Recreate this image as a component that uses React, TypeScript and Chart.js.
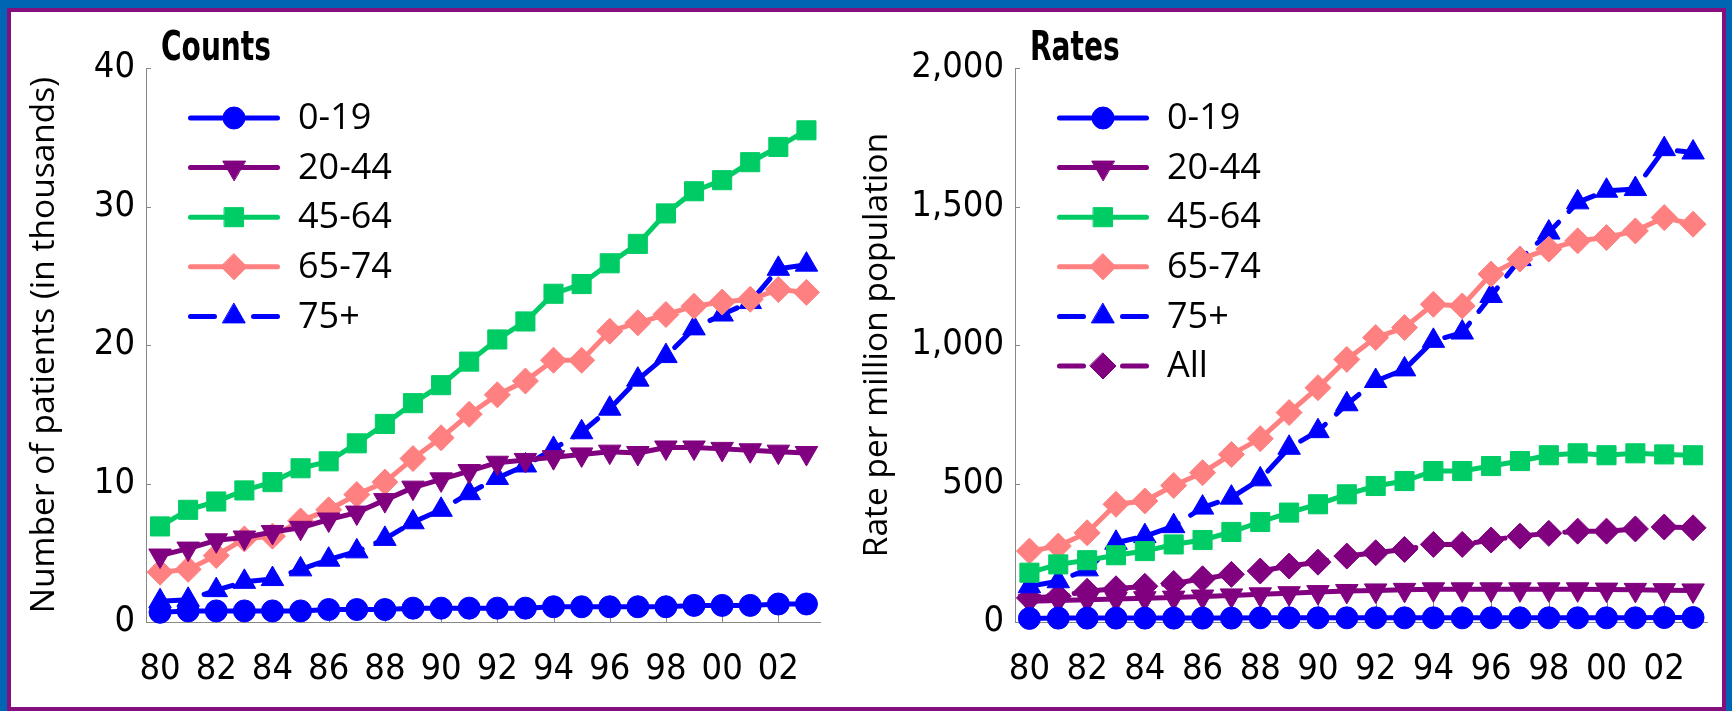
import React, { useEffect, useRef } from 'react';
import { Chart, registerables } from 'chart.js';

Chart.register(...registerables);

// ---------- data ----------
const YEARS = ['80', '81', '82', '83', '84', '85', '86', '87', '88', '89', '90', '91', '92', '93', '94', '95', '96', '97', '98', '99', '00', '01', '02', '03'];

const COUNT_TICKS = [0, 10, 20, 30, 40];
const RATE_TICKS = [0, 500, 1000, 1500, 2000];

const COUNT_0_19 = [0.7, 0.8, 0.8, 0.8, 0.8, 0.8, 0.9, 0.9, 0.9, 1.0, 1.0, 1.0, 1.0, 1.0, 1.1, 1.1, 1.1, 1.1, 1.1, 1.2, 1.2, 1.2, 1.3, 1.3];
const COUNT_20_44 = [4.8, 5.3, 5.9, 6.1, 6.5, 6.8, 7.4, 7.9, 8.8, 9.7, 10.3, 10.9, 11.5, 11.7, 11.9, 12.1, 12.3, 12.2, 12.6, 12.6, 12.5, 12.4, 12.3, 12.2];
const COUNT_45_64 = [6.9, 8.1, 8.7, 9.5, 10.1, 11.1, 11.6, 12.9, 14.3, 15.8, 17.1, 18.8, 20.4, 21.7, 23.7, 24.4, 25.9, 27.3, 29.5, 31.1, 31.9, 33.2, 34.3, 35.5];
const COUNT_65_74 = [3.6, 3.8, 4.8, 6.0, 6.2, 7.3, 8.1, 9.2, 10.1, 11.8, 13.3, 15.0, 16.4, 17.4, 18.9, 18.9, 21.0, 21.6, 22.2, 22.8, 23.1, 23.3, 24.0, 23.8];
const COUNT_75_PLUS = [1.5, 1.6, 2.3, 2.9, 3.1, 3.8, 4.5, 5.1, 6.0, 7.2, 8.1, 9.3, 10.4, 11.3, 12.5, 13.7, 15.4, 17.5, 19.2, 21.2, 22.2, 23.1, 25.5, 25.8];

const RATE_0_19 = [13, 14, 14, 14, 14, 14, 14, 14, 15, 15, 15, 15, 15, 15, 15, 15, 15, 15, 15, 15, 15, 15, 16, 16];
const RATE_20_44 = [75, 78, 80, 83, 86, 88, 92, 96, 100, 104, 108, 112, 114, 116, 118, 118, 118, 118, 118, 118, 117, 116, 115, 114];
const RATE_45_64 = [178, 208, 223, 241, 256, 280, 296, 325, 361, 395, 425, 461, 491, 509, 545, 545, 563, 581, 602, 609, 602, 609, 605, 602];
const RATE_65_74 = [256, 274, 322, 425, 437, 493, 539, 605, 662, 756, 846, 948, 1027, 1063, 1147, 1141, 1256, 1310, 1346, 1376, 1388, 1412, 1460, 1436];
const RATE_75_PLUS = [129, 147, 190, 286, 310, 346, 413, 449, 515, 629, 689, 786, 870, 912, 1015, 1045, 1177, 1310, 1406, 1515, 1557, 1563, 1707, 1695];
const RATE_ALL = [87, 93, 111, 120, 129, 139, 156, 172, 184, 202, 216, 238, 250, 262, 280, 280, 296, 310, 320, 328, 328, 336, 343, 340];

// ---------- styles ----------
const TICK_FONT = "'Liberation Sans Narrow', 'DejaVu Sans Condensed', 'Arial Narrow', sans-serif";
const TEXT_FONT = "'Open Sans', 'Noto Sans', sans-serif";

type SeriesStyle = { color: string; point: string; radius: number; rotation: number; dash: number[] };

const SERIES_STYLE: Record<string, SeriesStyle> = {
  '0-19': { color: '#0000ff', point: 'circle', radius: 11, rotation: 0, dash: [] },
  '20-44': { color: '#800080', point: 'triangle', radius: 13, rotation: 180, dash: [] },
  '45-64': { color: '#00cc66', point: 'rect', radius: 13.5, rotation: 0, dash: [] },
  '65-74': { color: '#ff8080', point: 'rectRot', radius: 13, rotation: 0, dash: [] },
  '75+': { color: '#0000ff', point: 'triangle', radius: 13, rotation: 0, dash: [30, 15] },
  'All': { color: '#800080', point: 'rectRot', radius: 13, rotation: 0, dash: [30, 15] },
};

function makeDataset(label: string, data: number[]) {
  const s = SERIES_STYLE[label];
  return {
    label,
    data,
    borderColor: s.color,
    backgroundColor: s.color,
    borderWidth: 5,
    borderDash: s.dash,
    borderCapStyle: 'round',
    borderJoinStyle: 'round',
    pointStyle: s.point,
    pointRadius: s.radius,
    pointHoverRadius: s.radius,
    pointRotation: s.rotation,
    pointBackgroundColor: s.color,
    pointBorderColor: s.color,
    pointBorderWidth: 1,
    tension: 0,
    fill: false,
    clip: false,
  };
}

function drawMarker(ctx: CanvasRenderingContext2D, style: SeriesStyle, x: number, y: number) {
  const r = style.radius;
  ctx.beginPath();
  if (style.point === 'circle') {
    ctx.arc(x, y, r, 0, Math.PI * 2);
  } else if (style.point === 'rect') {
    const h = r * Math.SQRT1_2;
    ctx.rect(x - h, y - h, 2 * h, 2 * h);
  } else if (style.point === 'rectRot') {
    ctx.moveTo(x, y - r);
    ctx.lineTo(x + r, y);
    ctx.lineTo(x, y + r);
    ctx.lineTo(x - r, y);
    ctx.closePath();
  } else if (style.point === 'triangle') {
    let rad = (style.rotation * Math.PI) / 180;
    ctx.moveTo(x + Math.sin(rad) * r, y - Math.cos(rad) * r);
    rad += (2 * Math.PI) / 3;
    ctx.lineTo(x + Math.sin(rad) * r, y - Math.cos(rad) * r);
    rad += (2 * Math.PI) / 3;
    ctx.lineTo(x + Math.sin(rad) * r, y - Math.cos(rad) * r);
    ctx.closePath();
  }
  ctx.fillStyle = style.color;
  ctx.fill();
  ctx.lineWidth = 1;
  ctx.strokeStyle = style.color;
  ctx.stroke();
}

const overlayPlugin = {
  id: 'overlay',
  beforeDatasetsDraw(chart: any, _args: any, opts: any) {
    const { ctx, chartArea } = chart;
    const xs = chart.scales.x;
    const ys = chart.scales.y;
    ctx.save();
    ctx.strokeStyle = '#888888';
    ctx.lineWidth = 1;
    xs.ticks.forEach((_t: any, i: number) => {
      if (i % 2 !== 0) return;
      const px = Math.round(xs.getPixelForTick(i)) + 0.5;
      ctx.beginPath();
      ctx.moveTo(px, chartArea.bottom);
      ctx.lineTo(px, chartArea.bottom - opts.xTickLen);
      ctx.stroke();
    });
    ys.ticks.forEach((_t: any, i: number) => {
      const py = Math.round(ys.getPixelForTick(i)) + 0.5;
      ctx.beginPath();
      ctx.moveTo(chartArea.left, py);
      ctx.lineTo(chartArea.left + 5, py);
      ctx.stroke();
    });
    ctx.restore();
  },
  afterDraw(chart: any, _args: any, opts: any) {
    const { ctx, chartArea } = chart;
    ctx.save();
    // panel title (condensed bold)
    ctx.fillStyle = '#000';
    ctx.font = `bold 40px ${TICK_FONT}`;
    ctx.textBaseline = 'alphabetic';
    ctx.textAlign = 'left';
    ctx.save();
    ctx.translate(chartArea.left + 15, chartArea.top - 8);
    ctx.scale(0.78, 1);
    ctx.fillText(opts.title, 0, 0);
    ctx.restore();

    // legend
    const L = chartArea.left;
    chart.data.datasets.forEach((ds: any, i: number) => {
      const s = SERIES_STYLE[ds.label];
      const y = chartArea.top + 50 + i * 49.6;
      ctx.save();
      ctx.strokeStyle = s.color;
      ctx.lineWidth = 5;
      ctx.lineCap = 'round';
      ctx.setLineDash(s.dash.length ? [24, 39] : []);
      ctx.beginPath();
      ctx.moveTo(L + 44.5, y);
      ctx.lineTo(L + 131.5, y);
      ctx.stroke();
      ctx.setLineDash([]);
      drawMarker(ctx, s, L + 88, y);
      ctx.restore();
      ctx.fillStyle = '#000';
      ctx.font = `36px ${TEXT_FONT}`;
      ctx.textBaseline = 'middle';
      ctx.textAlign = 'left';
      ctx.fillText(ds.label, L + 152, y + 1);
    });
    ctx.restore();
  },
};

type PanelProps = {
  left: number;
  width: number;
  title: string;
  yTitle: string;
  yTitlePad: number;
  yAxisWidth: number;
  padRight: number;
  ticks: number[];
  xTickLen: number;
  datasets: any[];
};

function Panel(p: PanelProps) {
  const ref = useRef<HTMLCanvasElement | null>(null);
  useEffect(() => {
    if (!ref.current) return;
    const yMin = p.ticks[0];
    const yMax = p.ticks[p.ticks.length - 1];
    const chart = new Chart(ref.current, {
      type: 'line',
      data: { labels: YEARS, datasets: p.datasets },
      plugins: [overlayPlugin as any],
      options: {
        responsive: false,
        animation: false,
        devicePixelRatio: 1,
        events: [],
        layout: { padding: { top: 56, right: p.padRight, bottom: 0, left: 0 } },
        plugins: {
          legend: { display: false },
          tooltip: { enabled: false },
          title: { display: false },
          overlay: { title: p.title, xTickLen: p.xTickLen },
        } as any,
        scales: {
          x: {
            type: 'category',
            offset: true,
            grid: { display: false },
            border: { display: true, color: '#888888', width: 1 },
            ticks: {
              autoSkip: false,
              maxRotation: 0,
              minRotation: 0,
              padding: 18,
              color: '#000',
              font: { family: TICK_FONT, size: 36 },
              callback: (_v: any, i: number) => (i % 2 === 0 ? YEARS[i] : ''),
            },
            afterFit: (s: any) => {
              s.height = 80;
            },
          },
          y: {
            min: yMin,
            max: yMax,
            afterBuildTicks: (s: any) => {
              s.ticks = p.ticks.map((v) => ({ value: v }));
            },
            grid: { display: false },
            border: { display: true, color: '#888888', width: 1 },
            ticks: {
              padding: 3,
              color: '#000',
              font: { family: TICK_FONT, size: 36 },
              callback: (v: any) => Number(v).toLocaleString('en-US'),
            },
            title: {
              display: true,
              text: p.yTitle,
              color: '#000',
              font: { family: TEXT_FONT, size: 33.5 },
              padding: { top: p.yTitlePad, bottom: 0 },
            },
            afterFit: (s: any) => {
              s.width = p.yAxisWidth;
            },
          },
        },
      } as any,
    });
    return () => chart.destroy();
  }, []);
  return (
    <canvas
      ref={ref}
      width={p.width}
      height={690}
      style={{ position: 'absolute', left: p.left, top: 12, width: p.width, height: 690 }}
    />
  );
}

export default function App() {
  const countSets = [
    makeDataset('0-19', COUNT_0_19),
    makeDataset('20-44', COUNT_20_44),
    makeDataset('45-64', COUNT_45_64),
    makeDataset('65-74', COUNT_65_74),
    makeDataset('75+', COUNT_75_PLUS),
  ];
  const rateSets = [
    makeDataset('0-19', RATE_0_19),
    makeDataset('20-44', RATE_20_44),
    makeDataset('45-64', RATE_45_64),
    makeDataset('65-74', RATE_65_74),
    makeDataset('75+', RATE_75_PLUS),
    makeDataset('All', RATE_ALL),
  ];
  return (
    <div style={{ position: 'absolute', left: 0, top: 0, width: 1732, height: 711, background: '#0066b3', overflow: 'hidden' }}>
      <div
        style={{
          position: 'absolute',
          left: 7,
          top: 8,
          width: 1719,
          height: 703,
          boxSizing: 'border-box',
          border: '4px solid #850f7d',
          background: '#ffffff',
        }}
      />
      <Panel
        left={12}
        width={823}
        title="Counts"
        yTitle="Number of patients (in thousands)"
        yTitlePad={12}
        yAxisWidth={134}
        padRight={12}
        ticks={COUNT_TICKS}
        xTickLen={10}
        datasets={countSets}
      />
      <Panel
        left={835}
        width={887}
        title="Rates"
        yTitle="Rate per million population"
        yTitlePad={22}
        yAxisWidth={180}
        padRight={8}
        ticks={RATE_TICKS}
        xTickLen={28}
        datasets={rateSets}
      />
    </div>
  );
}
